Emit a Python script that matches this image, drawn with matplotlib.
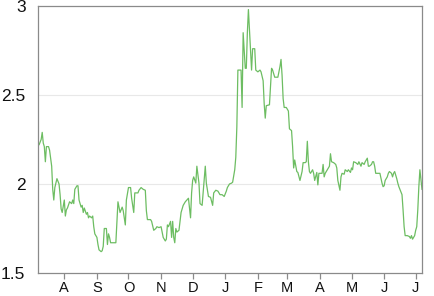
import pandas as pd
import matplotlib
matplotlib.use("Agg")
import matplotlib.pyplot as plt

plt.rcParams['font.family'] = ['Liberation Sans', 'DejaVu Sans']

# readings (date, value)
dates = [
    "2020-07-07", "2020-07-08", "2020-07-10", "2020-07-11", "2020-07-12", "2020-07-13", "2020-07-14",
    "2020-07-15", "2020-07-17", "2020-07-18", "2020-07-20", "2020-07-21", "2020-07-22", "2020-07-23",
    "2020-07-24", "2020-07-25", "2020-07-27", "2020-07-28", "2020-07-29", "2020-07-30",
    "2020-08-01", "2020-08-02", "2020-08-03", "2020-08-04", "2020-08-06", "2020-08-08", "2020-08-09",
    "2020-08-10", "2020-08-11", "2020-08-13", "2020-08-14", "2020-08-15", "2020-08-17", "2020-08-18",
    "2020-08-19", "2020-08-20", "2020-08-22", "2020-08-23", "2020-08-24", "2020-08-25", "2020-08-27",
    "2020-08-28", "2020-08-29", "2020-08-30",
    "2020-09-01", "2020-09-02", "2020-09-03", "2020-09-05", "2020-09-06", "2020-09-07", "2020-09-08",
    "2020-09-10", "2020-09-11", "2020-09-12", "2020-09-13", "2020-09-14", "2020-09-15", "2020-09-17",
    "2020-09-19", "2020-09-20", "2020-09-21", "2020-09-23", "2020-09-25", "2020-09-26", "2020-09-28",
    "2020-09-29",
    "2020-10-01", "2020-10-03", "2020-10-04", "2020-10-06", "2020-10-07", "2020-10-10", "2020-10-11",
    "2020-10-13", "2020-10-15", "2020-10-17", "2020-10-18", "2020-10-19", "2020-10-22", "2020-10-23",
    "2020-10-25", "2020-10-27", "2020-10-28", "2020-10-30",
    "2020-11-01", "2020-11-02", "2020-11-03", "2020-11-05", "2020-11-06", "2020-11-07", "2020-11-08",
    "2020-11-10", "2020-11-11", "2020-11-12", "2020-11-13", "2020-11-14", "2020-11-15", "2020-11-16",
    "2020-11-18", "2020-11-20", "2020-11-22", "2020-11-24", "2020-11-27", "2020-11-29", "2020-11-30",
    "2020-12-01", "2020-12-02", "2020-12-04", "2020-12-05", "2020-12-07", "2020-12-08", "2020-12-10",
    "2020-12-12", "2020-12-13", "2020-12-14", "2020-12-16", "2020-12-18", "2020-12-20", "2020-12-21",
    "2020-12-23", "2020-12-25", "2020-12-27", "2020-12-29", "2020-12-31",
    "2021-01-02", "2021-01-03", "2021-01-05", "2021-01-07", "2021-01-08", "2021-01-10", "2021-01-11",
    "2021-01-12", "2021-01-13", "2021-01-15", "2021-01-16", "2021-01-17", "2021-01-18", "2021-01-20",
    "2021-01-21", "2021-01-22", "2021-01-23", "2021-01-25", "2021-01-26", "2021-01-27", "2021-01-29",
    "2021-01-30",
    "2021-02-01", "2021-02-03", "2021-02-04", "2021-02-06", "2021-02-07", "2021-02-08", "2021-02-09",
    "2021-02-12", "2021-02-13", "2021-02-14", "2021-02-15", "2021-02-17", "2021-02-18", "2021-02-20",
    "2021-02-22", "2021-02-23", "2021-02-24", "2021-02-25", "2021-02-26", "2021-02-28",
    "2021-03-02", "2021-03-03", "2021-03-05", "2021-03-06", "2021-03-07", "2021-03-08", "2021-03-10",
    "2021-03-11", "2021-03-13", "2021-03-15", "2021-03-16", "2021-03-18", "2021-03-19", "2021-03-20",
    "2021-03-21", "2021-03-22", "2021-03-23", "2021-03-25", "2021-03-26", "2021-03-27", "2021-03-29",
    "2021-03-30", "2021-03-31",
    "2021-04-01", "2021-04-03", "2021-04-04", "2021-04-05", "2021-04-06", "2021-04-08", "2021-04-10",
    "2021-04-11", "2021-04-12", "2021-04-14", "2021-04-16", "2021-04-17", "2021-04-18", "2021-04-20",
    "2021-04-21", "2021-04-22", "2021-04-24", "2021-04-25", "2021-04-27", "2021-04-28", "2021-04-30",
    "2021-05-01", "2021-05-02", "2021-05-03", "2021-05-05", "2021-05-07", "2021-05-08", "2021-05-10",
    "2021-05-11", "2021-05-13", "2021-05-14", "2021-05-16", "2021-05-17", "2021-05-18", "2021-05-20",
    "2021-05-21", "2021-05-22", "2021-05-23", "2021-05-24", "2021-05-26", "2021-05-28", "2021-05-30",
    "2021-05-31",
    "2021-06-01", "2021-06-02", "2021-06-04", "2021-06-05", "2021-06-06", "2021-06-08", "2021-06-09",
    "2021-06-10", "2021-06-11", "2021-06-13", "2021-06-14", "2021-06-15", "2021-06-17", "2021-06-18",
    "2021-06-19", "2021-06-20", "2021-06-21", "2021-06-23", "2021-06-25", "2021-06-26", "2021-06-27",
    "2021-06-28", "2021-06-30",
    "2021-07-01", "2021-07-02", "2021-07-03", "2021-07-04", "2021-07-05", "2021-07-07",
]
values = [
    2.23, 2.22, 2.25, 2.29, 2.23, 2.21, 2.125,
    2.21, 2.21, 2.19, 2.10, 1.97, 1.91, 1.98,
    2.005, 2.03, 2.00, 1.94, 1.86, 1.84,
    1.91, 1.82, 1.855, 1.865, 1.90, 1.89, 1.91,
    1.89, 1.97, 1.99, 1.99, 1.91, 1.87, 1.88,
    1.84, 1.865, 1.83, 1.84, 1.81, 1.82, 1.81,
    1.82, 1.76, 1.72,
    1.70, 1.66, 1.63, 1.62, 1.625, 1.65, 1.75,
    1.75, 1.66, 1.72, 1.70, 1.67, 1.67, 1.67,
    1.67, 1.78, 1.90, 1.84, 1.87, 1.85, 1.77,
    1.91,
    1.98, 1.98, 1.92, 1.84, 1.95, 1.95, 1.965,
    1.98, 1.97, 1.965, 1.85, 1.80, 1.80, 1.79,
    1.74, 1.75, 1.76, 1.755,
    1.76, 1.73, 1.70, 1.68, 1.69, 1.77, 1.76,
    1.79, 1.70, 1.79, 1.70, 1.67, 1.75, 1.73,
    1.74, 1.84, 1.88, 1.90, 1.92, 1.81, 1.95,
    2.02, 2.04, 2.005, 2.10, 2.005, 1.89, 1.88,
    2.03, 2.10, 2.005, 1.93, 1.925, 1.88, 1.95,
    1.965, 1.96, 1.94, 1.94, 1.93,
    1.96, 1.98, 2.00, 2.005, 2.01, 2.08, 2.15,
    2.32, 2.64, 2.64, 2.64, 2.43, 2.85, 2.65,
    2.65, 2.85, 2.98, 2.75, 2.64, 2.76, 2.76,
    2.64,
    2.63, 2.64, 2.63, 2.58, 2.45, 2.37, 2.44,
    2.445, 2.545, 2.65, 2.64, 2.60, 2.60, 2.60,
    2.66, 2.70, 2.61, 2.48, 2.43, 2.43,
    2.41, 2.31, 2.30, 2.21, 2.09, 2.135, 2.07,
    2.065, 2.02, 2.07, 2.12, 2.12, 2.125, 2.24,
    2.125, 2.07, 2.06, 2.08, 2.06, 2.02, 2.065,
    1.995, 2.06,
    2.06, 2.06, 2.11, 2.04, 2.06, 2.08, 2.10,
    2.17, 2.125, 2.12, 2.11, 2.09, 2.02, 1.965,
    2.04, 2.06, 2.055, 2.08, 2.07, 2.08, 2.065,
    2.09, 2.08, 2.125, 2.12, 2.11, 2.125, 2.10,
    2.12, 2.11, 2.125, 2.145, 2.10, 2.10, 2.11,
    2.125, 2.125, 2.10, 2.06, 2.06, 2.06, 2.005,
    1.985,
    1.99, 2.02, 2.04, 2.06, 2.07, 2.06, 2.04,
    2.06, 2.07, 2.03, 2.005, 1.985, 1.955, 1.94,
    1.855, 1.76, 1.71, 1.71, 1.705, 1.695, 1.71,
    1.69, 1.71,
    1.74, 1.76, 1.855, 1.985, 2.08, 1.97,
]

month_starts = pd.date_range("2020-08-01", periods=12, freq="MS")
month_labels = ["A", "S", "O", "N", "D", "J", "F", "M", "A", "M", "J", "J"]
y_ticks = [1.5, 2, 2.5, 3]
y_labels = ["1.5", "2", "2.5", "3"]

x = pd.to_datetime(dates)

fig = plt.figure(figsize=(4.35, 2.96), dpi=100)
ax = fig.add_axes([38/435, 1 - 273/296, (422 - 38)/435, (273 - 6)/296])

ax.plot(x, values, color="#6dbd62", linewidth=0.9)

ax.set_xlim(pd.Timestamp("2020-07-07"), pd.Timestamp("2021-07-07"))
ax.set_ylim(1.5, 3)

ax.set_yticks(y_ticks)
ax.set_yticklabels(y_labels)
ax.set_xticks(month_starts)
ax.set_xticklabels(month_labels)

for v in [2, 2.5]:
    ax.axhline(v, color="#e8e8e8", linewidth=0.8, zorder=0)

for s in ax.spines.values():
    s.set_color("#8a8a8a")
    s.set_linewidth(0.9)

ax.tick_params(axis="y", length=0, pad=9, labelsize=12.5, colors="#111111")
ax.tick_params(axis="x", length=4, width=0.9, color="#8a8a8a", pad=1.5,
               labelsize=10.5, labelcolor="#111111")

fig.savefig("out.png", dpi=100)
